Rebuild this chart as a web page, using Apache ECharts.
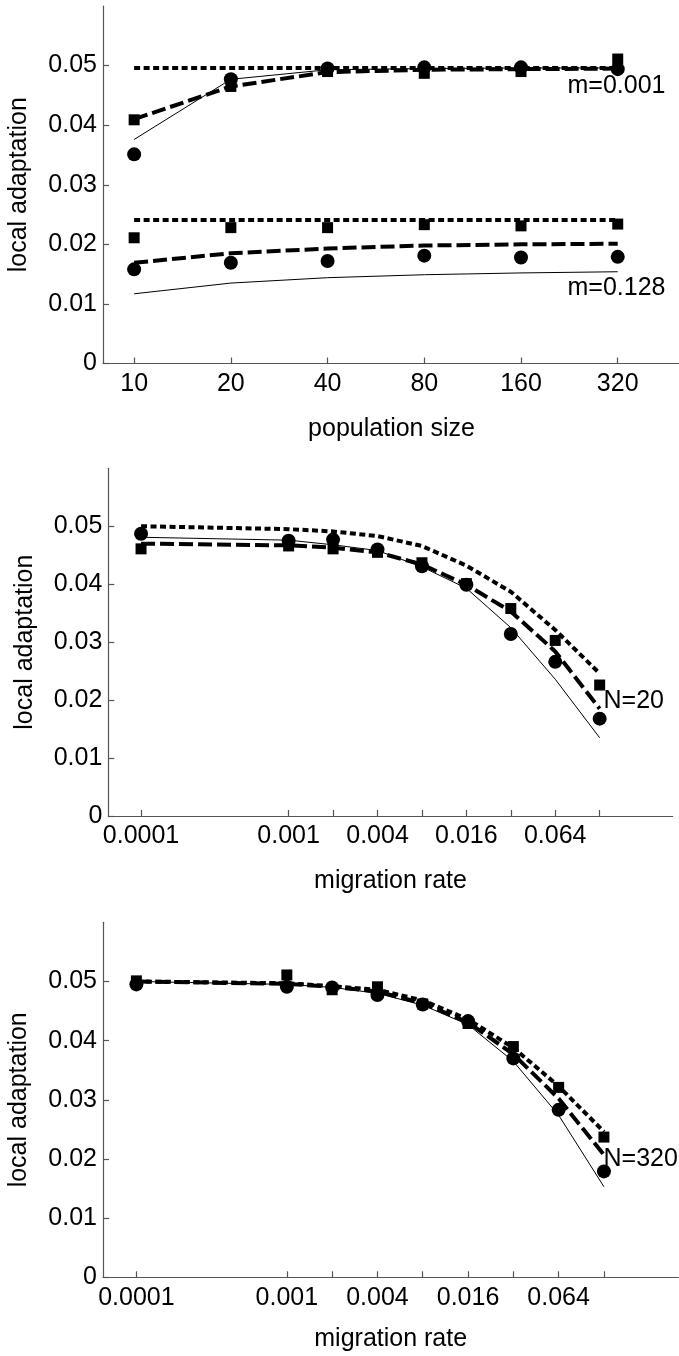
<!DOCTYPE html>
<html>
<head>
<meta charset="utf-8">
<script src="https://cdn.jsdelivr.net/npm/echarts@6/dist/echarts.min.js"></script>
<style>
html,body{margin:0;padding:0;background:#fff;}
#c{width:679px;height:1356px;}
</style>
</head>
<body>
<div id="c"></div>
<script>
// ---------- data ----------
const popSizes = [10, 20, 40, 80, 160, 320];
const popTickLabels = ['10', '20', '40', '80', '160', '320'];
const migRates = [0.0001, 0.001, 0.002, 0.004, 0.008, 0.016, 0.032, 0.064, 0.128];
const migTickLabels = ['0.0001', '0.001', '0.004', '0.016', '0.064'];
const yTickLabels = ['0', '0.01', '0.02', '0.03', '0.04', '0.05'];

// panel 1: local adaptation vs population size
const p1DottedM001 = [0.0496, 0.0496, 0.0496, 0.0496, 0.0496, 0.0496];
const p1DashedM001 = [0.0410, 0.0465, 0.0489, 0.0493, 0.0494, 0.0495];
const p1ThinM001   = [0.0376, 0.0477, 0.0493, 0.0495, 0.0496, 0.0496];
const p1CircM001   = [0.0351, 0.0477, 0.0495, 0.0497, 0.0497, 0.0494];
const p1SqM001     = [0.0409, 0.0465, 0.0490, 0.0487, 0.0490, 0.0511];
const p1DottedM128 = [0.0241, 0.0241, 0.0241, 0.0241, 0.0241, 0.0241];
const p1DashedM128 = [0.0169, 0.0185, 0.0193, 0.0198, 0.0200, 0.0201];
const p1ThinM128   = [0.0117, 0.0135, 0.0144, 0.0149, 0.0152, 0.0154];
const p1CircM128   = [0.0158, 0.0169, 0.0172, 0.0181, 0.0178, 0.0179];
const p1SqM128     = [0.0211, 0.0228, 0.0228, 0.0233, 0.0231, 0.0234];

// panel 2: N = 20
const p2Dotted = [0.0500, 0.0495, 0.0491, 0.0483, 0.0466, 0.0432, 0.0387, 0.0321, 0.0246];
const p2Dashed = [0.0470, 0.0467, 0.0463, 0.0455, 0.0434, 0.0399, 0.0353, 0.0284, 0.0185];
const p2Thin   = [0.0481, 0.0476, 0.0468, 0.0458, 0.0430, 0.0393, 0.0325, 0.0236, 0.0135];
const p2Circ   = [0.0487, 0.0475, 0.0477, 0.0460, 0.0431, 0.0399, 0.0314, 0.0266, 0.0168];
const p2Sq     = [0.0461, 0.0466, 0.0461, 0.0455, 0.0437, 0.0401, 0.0358, 0.0303, 0.0226];

// panel 3: N = 320
const p3Dotted = [0.0500, 0.0497, 0.0492, 0.0486, 0.0468, 0.0436, 0.0388, 0.0323, 0.0246];
const p3Dashed = [0.0500, 0.0496, 0.0491, 0.0483, 0.0463, 0.0431, 0.0377, 0.0302, 0.0207];
const p3Thin   = [0.0500, 0.0495, 0.0490, 0.0480, 0.0460, 0.0427, 0.0365, 0.0274, 0.0153];
const p3Circ   = [0.0495, 0.0491, 0.0490, 0.0477, 0.0461, 0.0433, 0.0370, 0.0283, 0.0179];
const p3Sq     = [0.0501, 0.0511, 0.0486, 0.0491, 0.0462, 0.0429, 0.0390, 0.0321, 0.0237];

// ---------- helpers ----------
const FONT = "'Liberation Sans', Arial, sans-serif";
const AXIS_COLOR = '#555';
const yTicks = yTickLabels.map(Number);
const popTicks = popTickLabels.map(Number);
const migLabelVals = migTickLabels.map(Number);

function pairs(xs, ys) { return xs.map((x, i) => [x, ys[i]]); }
function lookup(vals, labels, v) {
  for (let i = 0; i < vals.length; i++) {
    const t = vals[i];
    if (t === 0 ? Math.abs(v) < 1e-9 : Math.abs(v / t - 1) < 1e-6) return labels[i];
  }
  return '';
}

function lineSeries(idx, xs, ys, kind) {
  const styles = {
    dotted: { width: 4, type: [6, 3.5] },
    dashed: { width: 4, type: [14, 5] },
    thin:   { width: 1, type: 'solid' }
  };
  return {
    type: 'line', xAxisIndex: idx, yAxisIndex: idx,
    data: pairs(xs, ys), showSymbol: false, symbol: 'none',
    lineStyle: Object.assign({ color: '#000', cap: 'butt', opacity: 1 }, styles[kind]),
    z: kind === 'thin' ? 3 : 2, silent: true
  };
}
function markerSeries(idx, xs, ys, kind) {
  return {
    type: 'scatter', xAxisIndex: idx, yAxisIndex: idx,
    data: pairs(xs, ys),
    symbol: kind === 'circle' ? 'circle' : 'rect',
    symbolSize: kind === 'circle' ? 14 : 11,
    itemStyle: { color: '#000', opacity: 1 }, z: 5, silent: true
  };
}

function yAxis(idx) {
  return {
    type: 'value', gridIndex: idx, min: 0, max: 0.06,
    name: 'local adaptation', nameLocation: 'middle', nameRotate: 90, nameGap: 71,
    nameTextStyle: { fontFamily: FONT, fontSize: 25, color: '#000' },
    axisLine: { show: true, lineStyle: { color: AXIS_COLOR, width: 1.2 } },
    axisTick: { show: true, inside: true, length: 6, customValues: yTicks, lineStyle: { color: AXIS_COLOR, width: 1.2 } },
    axisLabel: { customValues: yTicks, margin: 6, fontFamily: FONT, fontSize: 25, color: '#000',
      formatter: v => lookup(yTicks, yTickLabels, v) },
    splitLine: { show: false }
  };
}
function xAxis(idx, cfg) {
  return {
    type: 'log', logBase: 2, gridIndex: idx, min: cfg.min, max: cfg.max,
    name: cfg.name, nameLocation: 'middle', nameGap: cfg.nameGap,
    nameTextStyle: { fontFamily: FONT, fontSize: 25, color: '#000' },
    axisLine: { show: true, onZero: false, lineStyle: { color: AXIS_COLOR, width: 1.2 } },
    axisTick: { show: true, inside: true, length: 6, customValues: cfg.ticks, lineStyle: { color: AXIS_COLOR, width: 1.2 } },
    axisLabel: { customValues: cfg.labelVals, margin: 8, fontFamily: FONT, fontSize: 25, color: '#000',
      formatter: v => lookup(cfg.labelVals, cfg.labels, v) },
    splitLine: { show: false }, minorTick: { show: false }
  };
}

const option = {
  animation: false,
  backgroundColor: '#fff',
  grid: [
    { left: 103, top: 6, width: 577, height: 357.5, outerBoundsMode: 'none', containLabel: false },
    { left: 108.3, top: 468.3, width: 564.4, height: 347.7, outerBoundsMode: 'none', containLabel: false },
    { left: 103, top: 922.3, width: 575.4, height: 355, outerBoundsMode: 'none', containLabel: false }
  ],
  xAxis: [
    xAxis(0, { min: 8, max: 500, name: 'population size', nameGap: 53, ticks: popTicks, labelVals: popTicks, labels: popTickLabels }),
    xAxis(1, { min: 0.00006, max: 0.4, name: 'migration rate', nameGap: 53, ticks: migRates, labelVals: migLabelVals, labels: migTickLabels }),
    xAxis(2, { min: 0.00006, max: 0.4, name: 'migration rate', nameGap: 49, ticks: migRates, labelVals: migLabelVals, labels: migTickLabels })
  ],
  yAxis: [yAxis(0), yAxis(1), yAxis(2)],
  series: [
    lineSeries(0, popSizes, p1DottedM001, 'dotted'),
    lineSeries(0, popSizes, p1DashedM001, 'dashed'),
    lineSeries(0, popSizes, p1ThinM001, 'thin'),
    lineSeries(0, popSizes, p1DottedM128, 'dotted'),
    lineSeries(0, popSizes, p1DashedM128, 'dashed'),
    lineSeries(0, popSizes, p1ThinM128, 'thin'),
    markerSeries(0, popSizes, p1CircM001, 'circle'),
    markerSeries(0, popSizes, p1SqM001, 'square'),
    markerSeries(0, popSizes, p1CircM128, 'circle'),
    markerSeries(0, popSizes, p1SqM128, 'square'),

    lineSeries(1, migRates, p2Dotted, 'dotted'),
    lineSeries(1, migRates, p2Dashed, 'dashed'),
    lineSeries(1, migRates, p2Thin, 'thin'),
    markerSeries(1, migRates, p2Circ, 'circle'),
    markerSeries(1, migRates, p2Sq, 'square'),

    lineSeries(2, migRates, p3Dotted, 'dotted'),
    lineSeries(2, migRates, p3Dashed, 'dashed'),
    lineSeries(2, migRates, p3Thin, 'thin'),
    markerSeries(2, migRates, p3Circ, 'circle'),
    markerSeries(2, migRates, p3Sq, 'square')
  ],
  graphic: [
    { type: 'text', x: 567.5, y: 86, style: { text: 'm=0.001', font: "25px 'Liberation Sans', Arial, sans-serif", fill: '#000', verticalAlign: 'middle' }, z: 10 },
    { type: 'text', x: 567.5, y: 288.5, style: { text: 'm=0.128', font: "25px 'Liberation Sans', Arial, sans-serif", fill: '#000', verticalAlign: 'middle' }, z: 10 },
    { type: 'text', x: 603.5, y: 701, style: { text: 'N=20', font: "25px 'Liberation Sans', Arial, sans-serif", fill: '#000', verticalAlign: 'middle' }, z: 10 },
    { type: 'text', x: 603.5, y: 1159.5, style: { text: 'N=320', font: "25px 'Liberation Sans', Arial, sans-serif", fill: '#000', verticalAlign: 'middle' }, z: 10 }
  ]
};

const chart = echarts.init(document.getElementById('c'), null, { renderer: 'canvas' });
chart.setOption(option);
</script>
</body>
</html>
